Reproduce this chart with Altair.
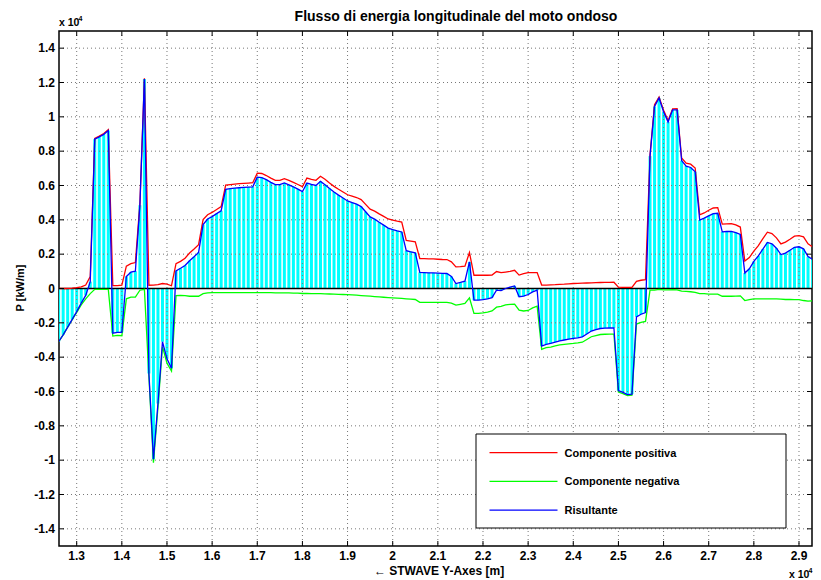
import altair as alt
import pandas as pd

FONT = "Liberation Sans"

# sampling grid of the along-shore coordinate (m)
x_start = 12600
x_step = 100

# positive component (kW/m)
pos = [0, 0, 0, 20, 50, 100, 200, 700, 8750, 8880,
       9030, 9250, 170, 170, 200, 1300, 1450, 1510, 4950, 12250,
       190, 200, 220, 290, 250, 160, 1450, 1580, 1760, 2070,
       2300, 2550, 4020, 4300, 4430, 4600, 4770, 6020, 6050, 6080,
       6105, 6120, 6140, 6160, 6720, 6700, 6580, 6430, 6300, 6300,
       6400, 6300, 6180, 6060, 5930, 6430, 6360, 6300, 6540, 6360,
       6150, 5950, 5780, 5620, 5460, 5380, 5300, 5180, 4900, 4620,
       4510, 4350, 4200, 4050, 3980, 3920, 3870, 2800, 2760, 2720,
       1745, 1740, 1730, 1720, 1705, 1690, 1687, 1550, 1257, 1270,
       1297, 2094, 773, 773, 773, 773, 780, 990, 920, 960,
       1000, 1060, 780, 860, 930, 930, 930, 200, 200, 210,
       220, 240, 250, 270, 290, 300, 310, 320, 330, 340,
       350, 355, 360, 366, 80, 70, 60, 60, 420, 480,
       520, 7810, 10700, 11150, 10380, 9780, 10470, 10480, 7600, 7300,
       7240, 7020, 4290, 4400, 4560, 4690, 4710, 3750, 3770, 3780,
       3700, 3580, 1600, 1800, 2180, 2500, 2900, 3280, 3200, 2950,
       2600, 2700, 2870, 3050, 3080, 3010, 2600, 2420, 2420, 2560]

# negative component (kW/m)
neg = [-3100, -2700, -2250, -1820, -1400, -950, -600, -300, -50, -50,
       -50, -50, -2770, -2730, -2750, -600, -500, -500, -100, -50,
       -5140, -10150, -6920, -3390, -4350, -4810, -420, -400, -420, -450,
       -450, -450, -300, -250, -240, -240, -240, -240, -235, -235,
       -235, -235, -235, -235, -235, -240, -240, -245, -250, -250,
       -255, -260, -265, -270, -290, -290, -295, -300, -300, -310,
       -320, -330, -340, -350, -360, -375, -390, -410, -430, -450,
       -470, -490, -510, -530, -545, -560, -575, -600, -620, -640,
       -810, -814, -814, -814, -814, -814, -814, -850, -970, -920,
       -870, -547, -1453, -1453, -1423, -1373, -1310, -1090, -1040, -960,
       -920, -910, -1260, -1310, -1280, -1130, -1030, -3550, -3450, -3410,
       -3340, -3290, -3250, -3220, -3200, -3170, -3130, -2970, -2810, -2740,
       -2680, -2665, -2660, -2656, -6030, -6120, -6240, -6210, -2070, -1980,
       -1920, -100, -100, -50, -80, -80, -70, -80, -150, -170,
       -190, -220, -300, -300, -330, -330, -330, -450, -450, -450,
       -440, -430, -700, -650, -600, -600, -600, -600, -600, -600,
       -620, -640, -640, -650, -650, -700, -740, -720, -650, -580]

series_names = ["Componente positiva", "Componente negativa", "Risultante"]
series_colors = ["#ff0000", "#00ff00", "#0000ff"]

x_ticks = [13000, 14000, 15000, 16000, 17000, 18000, 19000, 20000, 21000,
           22000, 23000, 24000, 25000, 26000, 27000, 28000, 29000]
x_tick_labels = ["1.3", "1.4", "1.5", "1.6", "1.7", "1.8", "1.9", "2", "2.1",
                 "2.2", "2.3", "2.4", "2.5", "2.6", "2.7", "2.8", "2.9"]
y_ticks = [-14000, -12000, -10000, -8000, -6000, -4000, -2000, 0,
           2000, 4000, 6000, 8000, 10000, 12000, 14000]
y_tick_labels = ["-1.4", "-1.2", "-1", "-0.8", "-0.6", "-0.4", "-0.2", "0",
                 "0.2", "0.4", "0.6", "0.8", "1", "1.2", "1.4"]

x_domain = [12608, 29288]
y_domain = [-15000, 15000]

title_text = "Flusso di energia longitudinale del moto ondoso"
x_title = "\u2190 STWAVE Y-Axes [m]"
y_title = "P [kW/m]"
exponent_base = "x 10"
exponent_power = "4"

W, H = 753, 515

xs = [x_start + x_step * i for i in range(len(pos))]
res = [p + n for p, n in zip(pos, neg)]
df = pd.DataFrame({"x": xs, "res": res})
long_df = pd.DataFrame({
    "x": xs * 3,
    "val": pos + neg + res,
    "series": [s for s in series_names for _ in xs],
})

xscale = alt.Scale(domain=x_domain, nice=False, zero=False)
yscale = alt.Scale(domain=y_domain, nice=False, zero=False)

xt_df = pd.DataFrame({"xt": x_ticks, "lab": x_tick_labels})
yt_df = pd.DataFrame({"yt": y_ticks, "lab": y_tick_labels})

stems = alt.Chart(df).mark_rule(color="#00ffff", strokeWidth=3, clip=True).encode(
    x=alt.X("x:Q", scale=xscale, axis=None),
    y=alt.Y("res:Q", scale=yscale, axis=None),
    y2=alt.Y2Datum(0),
)

grid_style = dict(color="#777777", strokeWidth=1, strokeDash=[1, 3])
grid_x = alt.Chart(xt_df).mark_rule(**grid_style).encode(
    x=alt.X("xt:Q", scale=xscale, axis=None))
grid_y = alt.Chart(yt_df).mark_rule(**grid_style).encode(
    y=alt.Y("yt:Q", scale=yscale, axis=None))

zero_line = alt.Chart(pd.DataFrame({"v": [0]})).mark_rule(
    color="black", strokeWidth=1.5).encode(
    y=alt.Y("v:Q", scale=yscale, axis=None))

cscale = alt.Scale(domain=series_names, range=series_colors)
lines = alt.Chart(long_df).mark_line(strokeWidth=1.3, clip=True).encode(
    x=alt.X("x:Q", scale=xscale, axis=None),
    y=alt.Y("val:Q", scale=yscale, axis=None),
    color=alt.Color("series:N", scale=cscale, legend=None),
)

tick_style = dict(color="black", strokeWidth=1)
ticks_bottom = alt.Chart(xt_df).mark_rule(y2Offset=-5, **tick_style).encode(
    x=alt.X("xt:Q", scale=xscale, axis=None),
    y=alt.YDatum(y_domain[0], scale=yscale, axis=None), y2=alt.Y2Datum(y_domain[0]))
ticks_top = alt.Chart(xt_df).mark_rule(y2Offset=5, **tick_style).encode(
    x=alt.X("xt:Q", scale=xscale, axis=None),
    y=alt.YDatum(y_domain[1], scale=yscale, axis=None), y2=alt.Y2Datum(y_domain[1]))
ticks_left = alt.Chart(yt_df).mark_rule(x2Offset=5, **tick_style).encode(
    y=alt.Y("yt:Q", scale=yscale, axis=None),
    x=alt.XDatum(x_domain[0], scale=xscale, axis=None), x2=alt.X2Datum(x_domain[0]))
ticks_right = alt.Chart(yt_df).mark_rule(x2Offset=-5, **tick_style).encode(
    y=alt.Y("yt:Q", scale=yscale, axis=None),
    x=alt.XDatum(x_domain[1], scale=xscale, axis=None), x2=alt.X2Datum(x_domain[1]))

lab_style = dict(font=FONT, fontWeight="bold", color="black", fontSize=12)
x_labels = alt.Chart(xt_df).mark_text(align="center", baseline="alphabetic",
                                      **lab_style).encode(
    x=alt.X("xt:Q", scale=xscale, axis=None), y=alt.value(H + 14), text="lab:N")
y_labels = alt.Chart(yt_df).mark_text(align="right", baseline="middle",
                                      **lab_style).encode(
    y=alt.Y("yt:Q", scale=yscale, axis=None), x=alt.value(-4), text="lab:N")

# legend (box, sample lines and labels)
LEG_X, LEG_Y, LEG_W, LEG_H = 417, 403, 310, 94
ROW0, ROW_GAP = 18.7, 28.7
one = pd.DataFrame({"b": [0]})
legend_layers = [alt.Chart(one).mark_rect(
    fill="white", stroke="black", strokeWidth=1).encode(
    x=alt.value(LEG_X), x2=alt.value(LEG_X + LEG_W),
    y=alt.value(LEG_Y), y2=alt.value(LEG_Y + LEG_H))]
for i, (name, color) in enumerate(zip(series_names, series_colors)):
    ry = LEG_Y + ROW0 + i * ROW_GAP
    legend_layers.append(alt.Chart(one).mark_rule(color=color, strokeWidth=1.2).encode(
        x=alt.value(LEG_X + 13.5), x2=alt.value(LEG_X + 81.5), y=alt.value(ry)))
    legend_layers.append(alt.Chart(pd.DataFrame({"t": [name]})).mark_text(
        font=FONT, fontSize=11, fontWeight="bold", color="black",
        align="left", baseline="alphabetic").encode(
        text="t:N", x=alt.value(LEG_X + 88.5), y=alt.value(ry + 4)))

def label(text, size, x, y, align="left", angle=0):
    return alt.Chart(pd.DataFrame({"t": [text]})).mark_text(
        fontSize=size, font=FONT, fontWeight="bold", color="black",
        baseline="alphabetic", align=align, angle=angle).encode(
        text="t:N", x=alt.value(x), y=alt.value(y))

title_mark = label(title_text, 14, 397, -10, align="center")
x_title_mark = label(x_title, 12, 380, H + 29, align="center")
y_title_mark = label(y_title, 11, -35, 257, align="center", angle=270)
exp_tl = label(exponent_base, 10.5, 0, -5)
exp_tl4 = label(exponent_power, 7, 19.5, -10.5)
exp_br = label(exponent_base, 10.5, 730, H + 32)
exp_br4 = label(exponent_power, 7, 749.5, H + 26.5)

chart = alt.layer(
    stems, grid_x, grid_y, zero_line, lines,
    ticks_bottom, ticks_top, ticks_left, ticks_right, *legend_layers,
    x_labels, y_labels, title_mark, x_title_mark, y_title_mark,
    exp_tl, exp_tl4, exp_br, exp_br4,
).properties(
    width=W, height=H,
    padding={"left": 51, "top": 23, "right": 1, "bottom": 45},
    autosize=alt.AutoSizeParams(type="none"),
).configure_view(stroke="black", strokeWidth=1.5)

chart.save("out.html", embed_options={"renderer": "svg", "actions": False})
